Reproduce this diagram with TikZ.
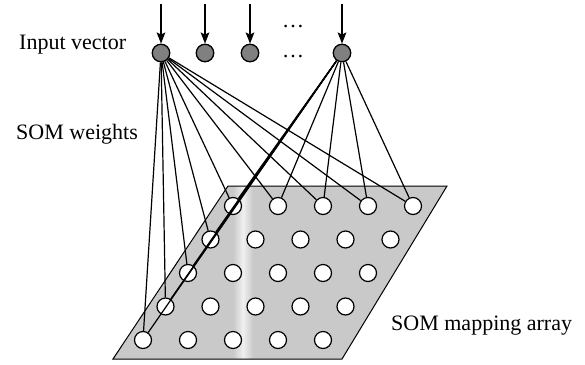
\documentclass[tikz,border=0pt]{standalone}
\usepackage{fontspec}
\setmainfont{Liberation Serif}
\usetikzlibrary{arrows.meta}
\begin{document}
\begin{tikzpicture}[x=1pt,y=-1pt,
  label text/.style={font=\fontsize{22}{26}\selectfont, anchor=base west, inner sep=0pt},
  unit/.style={circle, draw, line width=1.2pt, fill=white, minimum size=17pt, inner sep=0pt},
  inunit/.style={circle, draw, line width=1.3pt, fill=black!50, minimum size=17.5pt, inner sep=0pt},
  weight/.style={line width=1.2pt},
  feed/.style={line width=1.8pt, -{Stealth[length=11pt,width=8.5pt,inset=2pt]}}]
\useasboundingbox (0,0) rectangle (585,364);
% mapping array plane
\coordinate (p1) at (113,359);
\coordinate (p2) at (342,359);
\coordinate (p3) at (447,186);
\coordinate (p4) at (228,186);
\fill[black!21] (p1) -- (p2) -- (p3) -- (p4) -- cycle;
\begin{scope}
  \clip (p1) -- (p2) -- (p3) -- (p4) -- cycle;
  \shade[left color=black!21, right color=black!6] (233,180) rectangle (243,365);
  \shade[left color=black!6, right color=black!21] (243,180) rectangle (253,365);
\end{scope}
\draw[line width=1pt] (p1) -- (p2) -- (p3) -- (p4) -- cycle;
% grid of units
\foreach \r in {0,...,4}{
  \foreach \c in {0,...,4}{
    \node[unit] (g-\r-\c) at ({233+45*\c-22.5*\r},{206+33.5*\r}) {};
  }
}
% input units
\node[inunit] (in1) at (161,53) {};
\node[inunit] (in2) at (205,53) {};
\node[inunit] (in3) at (250,53) {};
\node[inunit] (in4) at (342,53) {};
\node[font=\fontsize{22}{26}\selectfont, anchor=base, inner sep=0pt] (dots1) at (293,27) {\ldots};
\node[font=\fontsize{22}{26}\selectfont, anchor=base, inner sep=0pt] (dots2) at (293,57) {\ldots};
% weights
\foreach \n in {in1,in4}{
  \foreach \c in {0,...,4}{ \draw[weight] (\n) -- (g-0-\c); }
  \foreach \r in {1,...,4}{ \draw[weight] (\n) -- (g-\r-0); }
}
% input arrows
\foreach \n in {in1,in2,in3,in4}{
  \coordinate (\n-src) at ([yshift=49pt]\n.center);
  \draw[feed] (\n-src) -- (\n);
}
% labels
\node[label text] (lin) at (19,49) {Input vector};
\node[label text] (lw) at (16,139) {SOM weights};
\node[label text] (lm) at (391,330) {SOM mapping array};
\end{tikzpicture}
\end{document}
